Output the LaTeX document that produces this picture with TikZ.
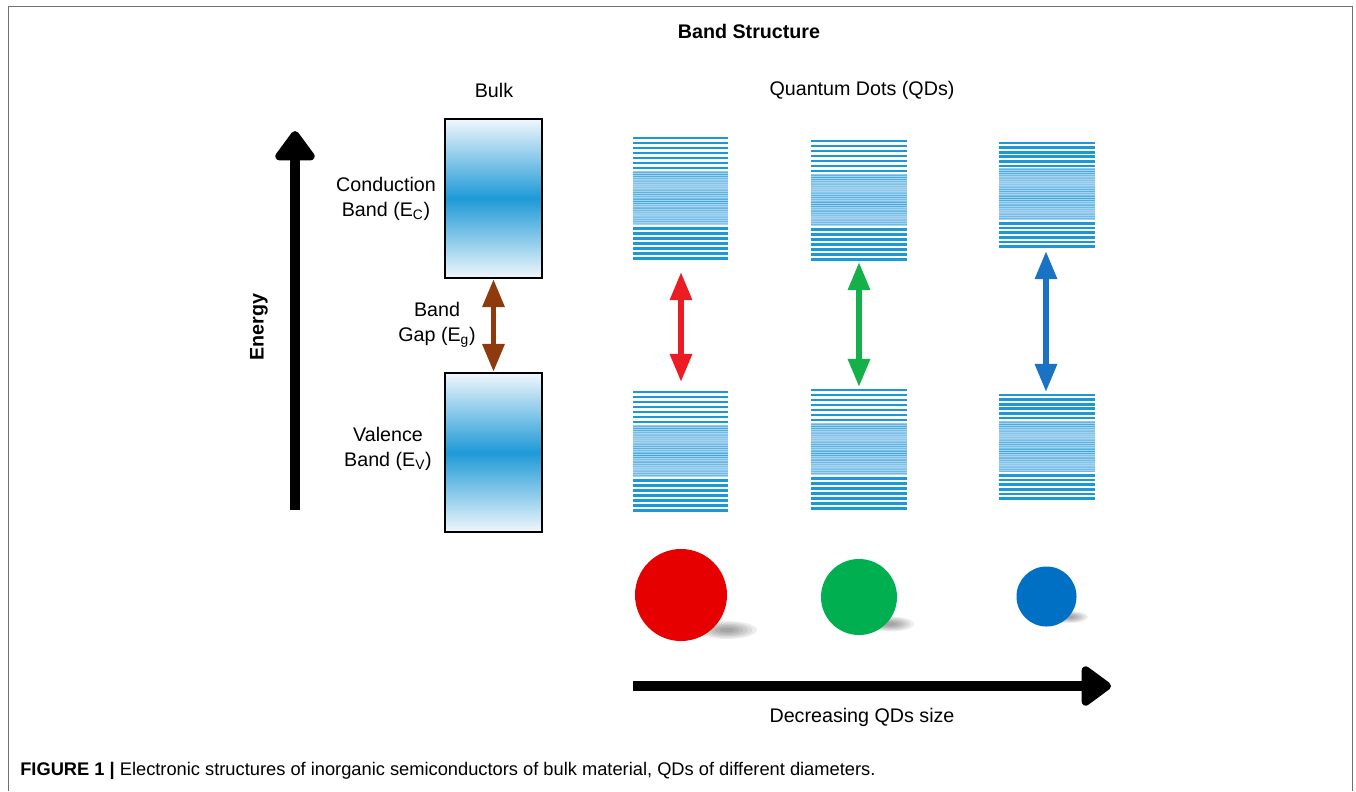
\documentclass[tikz,border=0pt]{standalone}
\usepackage{fontspec}
\setmainfont{Liberation Sans}
\usetikzlibrary{arrows.meta}

\definecolor{frame}{HTML}{707070}
\definecolor{qdblue}{HTML}{1B98D8}
\definecolor{qdhaze}{HTML}{A8D3EF}
\definecolor{bandtop}{HTML}{F0F7FC}
\definecolor{bandmid}{HTML}{1E9AD7}
\definecolor{gapbrown}{HTML}{8F3A0C}
\definecolor{qdred}{HTML}{EC1C24}
\definecolor{qdgreen}{HTML}{14B04A}
\definecolor{qdbluearrow}{HTML}{1A72C4}
\definecolor{dotred}{HTML}{E60000}
\definecolor{dotgreen}{HTML}{00B050}
\definecolor{dotblue}{HTML}{0070C4}

% one stack of discrete levels: outer lines, dense haze, outer lines
% #1 left x, #2 right x, #3 first line y, #4 spacing, #5 lines-1,
% #6 top of dense part, #7 bottom of dense part
\newcommand{\qdstack}[7]{%
  \foreach \i in {0,...,#5}{\draw[qdline] (#1,#3+\i*#4) -- (#2,#3+\i*#4);}
  \fill[qdhaze] (#1,#6) rectangle (#2,#7);
  \pgfmathtruncatemacro{\nd}{(#7-#6)/1.8}
  \foreach \k in {0,...,\nd}{%
    \pgfmathsetmacro{\op}{0.15+0.6*abs(sin(\k*37))*abs(cos(\k*11))}
    \draw[qdblue, line width=0.7pt, opacity=\op] (#1,#6+\k*1.8) -- (#2,#6+\k*1.8);}
  \foreach \i in {0,...,#5}{\draw[qdline] (#1,#7+3.5+\i*#4) -- (#2,#7+3.5+\i*#4);}
}

% soft shadow: stacked faint ellipses, #1 centre, #2 x radius, #3 y radius
\newcommand{\softshadow}[3]{%
  \foreach \s in {1.0,0.85,0.7,0.55,0.4,0.25}{%
    \fill[black, opacity=0.07] #1 ellipse ({#2*\s} and {#3*\s});}
}

\begin{document}
\begin{tikzpicture}[x=0.025cm, y=-0.025cm,
  lbl/.style={font=\fontsize{14}{17.8}\selectfont, align=center, inner sep=0pt},
  ttl/.style={font=\fontsize{14}{17}\selectfont\bfseries, inner sep=0pt},
  bandbox/.style={draw=black, line width=1.4pt, minimum width=2.425cm,
    minimum height=3.975cm, inner sep=0pt,
    top color=bandtop, bottom color=bandtop, middle color=bandmid},
  qdline/.style={qdblue, line width=1.9pt},
  bigarrow/.style={line width=7pt, -{Triangle[round, width=32pt, length=23pt]}},
  gaparrow/.style={line width=4.2pt, {Triangle[width=15pt, length=20pt]}-{Triangle[width=15pt, length=20pt]}},
  dot/.style={circle, inner sep=0pt}]
\useasboundingbox (0,0) rectangle (1356,791);

% frame
\draw[frame, line width=1.1pt] (8.5,791) -- (8.5,6.5) -- (1352.5,6.5) -- (1352.5,791);

% headings
\node[ttl] (title) at (749,31) {Band Structure};
\node[lbl] (bulk) at (494,90) {Bulk};
\node[lbl] (qds) at (862,90) {Quantum Dots (QDs)};

% energy axis
\coordinate (ebot) at (295,510);
\coordinate (etop) at (295,131);
\draw[bigarrow] (ebot) -- (etop);
\node[ttl, rotate=90] (energy) at (259,327) {Energy};

% bulk bands
\node[bandbox] (cb) at (493.5,198.5) {};
\node[bandbox] (vb) at (493.5,452.5) {};
\draw[gapbrown, gaparrow] (cb.south) -- (vb.north);
\node[lbl] (cblbl) at (386,199) {Conduction\\Band (E\textsubscript{C})};
\node[lbl] (gaplbl) at (437,325) {Band\\Gap (E\textsubscript{g})};
\node[lbl] (vblbl) at (388,449) {Valence\\Band (E\textsubscript{V})};

% quantum dot levels
\qdstack{633}{728}{138}{5}{6}{171}{225}
\qdstack{633}{728}{392}{5}{6}{425}{477}
\qdstack{811}{907}{141}{5}{6}{174}{226}
\qdstack{811}{907}{390}{5}{6}{423}{475}
\qdstack{999}{1095}{143}{4.6}{5}{168}{220}
\qdstack{999}{1095}{395}{4.6}{5}{421}{472}

% quantum dot gaps
\coordinate (r1) at (681,272); \coordinate (r2) at (681,382);
\coordinate (g1) at (859,262); \coordinate (g2) at (859,387);
\coordinate (b1) at (1046,251); \coordinate (b2) at (1046,392);
\draw[qdred, gaparrow] (r1) -- (r2);
\draw[qdgreen, gaparrow] (g1) -- (g2);
\draw[qdbluearrow, gaparrow] (b1) -- (b2);

% dots with their shadows
\softshadow{(727,630)}{30}{9}
\softshadow{(890,624)}{24}{7.5}
\softshadow{(1069,617)}{19}{6}
\node[dot, fill=dotred, minimum size=2.3cm] (dr) at (681,595) {};
\node[dot, fill=dotgreen, minimum size=1.9cm] (dg) at (859,597) {};
\node[dot, fill=dotblue, minimum size=1.5cm] (db) at (1046.5,596.5) {};

% size axis
\coordinate (sl) at (633,686);
\coordinate (sr) at (1111,686);
\draw[bigarrow] (sl) -- (sr);
\node[lbl] (sizelbl) at (862,717) {Decreasing QDs size};

% caption
\node[anchor=west, inner sep=0pt, font=\fontsize{13}{15}\selectfont] (cap) at (20,771)
  {\textbf{FIGURE 1 |} Electronic structures of inorganic semiconductors of bulk material, QDs of different diameters.};
\end{tikzpicture}
\end{document}
